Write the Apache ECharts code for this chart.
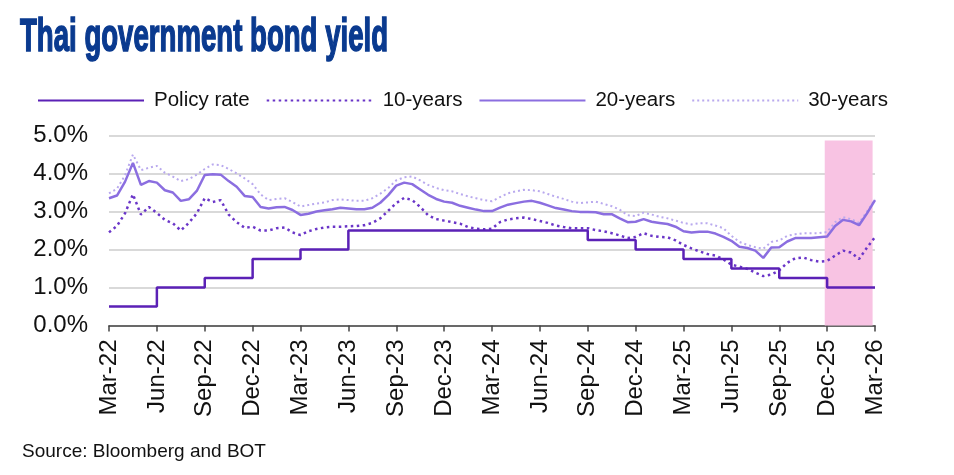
<!DOCTYPE html>
<html>
<head>
<meta charset="utf-8">
<title>Thai government bond yield</title>
<script src="https://cdn.jsdelivr.net/npm/echarts@6/dist/echarts.min.js"></script>
<style>
  html, body { margin: 0; padding: 0; background: #fff; }
  #chart { width: 954px; height: 475px; }
</style>
</head>
<body>
<div id="chart"></div>
<script>
// x positions are months since Mar-22, one sample every half month
const months = Array.from({ length: 97 }, (_, i) => i / 2)

const tickLabels = ['Mar-22', 'Jun-22', 'Sep-22', 'Dec-22', 'Mar-23', 'Jun-23', 'Sep-23', 'Dec-23',
  'Mar-24', 'Jun-24', 'Sep-24', 'Dec-24', 'Mar-25', 'Jun-25', 'Sep-25', 'Dec-25', 'Mar-26']

// policy rate changes at each quarter
const policyMonths = [0, 3, 6, 9, 12, 15, 18, 21, 24, 27, 30, 33, 36, 39, 42, 45, 48]
const policyRate = [0.5, 1.0, 1.25, 1.75, 2.0, 2.5, 2.5, 2.5, 2.5, 2.5, 2.25, 2.0, 1.75, 1.5, 1.25, 1.0, 1.0]

const yield10 = [
  2.45, 2.62, 2.95, 3.45, 2.92, 3.12, 2.96, 2.78, 2.69, 2.50, 2.70, 2.95, 3.35, 3.25, 3.30, 2.92,
  2.72, 2.57, 2.60, 2.50, 2.50, 2.56, 2.58, 2.45, 2.38, 2.48, 2.54, 2.58, 2.60, 2.60, 2.61, 2.62,
  2.64, 2.70, 2.82, 3.02, 3.22, 3.36, 3.30, 3.12, 2.90, 2.80, 2.76, 2.72, 2.68, 2.59, 2.55, 2.53,
  2.55, 2.72, 2.79, 2.82, 2.84, 2.80, 2.75, 2.70, 2.63, 2.59, 2.56, 2.56, 2.56, 2.51, 2.48, 2.43,
  2.37, 2.30, 2.33, 2.43, 2.36, 2.33, 2.32, 2.24, 2.12, 2.03, 1.95, 1.88, 1.84, 1.74, 1.60, 1.55,
  1.49, 1.39, 1.30, 1.34, 1.45, 1.65, 1.77, 1.79, 1.72, 1.68, 1.70, 1.84, 1.97, 1.92, 1.75, 2.05,
  2.33
]

const yield20 = [
  3.35, 3.42, 3.78, 4.28, 3.70, 3.80, 3.76, 3.56, 3.50, 3.28, 3.32, 3.54, 3.96, 3.98, 3.97, 3.80,
  3.65, 3.41, 3.38, 3.12, 3.08, 3.11, 3.12, 3.04, 2.91, 2.94, 3.00, 3.03, 3.06, 3.10, 3.08, 3.06,
  3.06, 3.10, 3.23, 3.43, 3.68, 3.76, 3.72, 3.58, 3.44, 3.33, 3.26, 3.23, 3.15, 3.10, 3.05, 3.01,
  3.01, 3.10, 3.18, 3.22, 3.26, 3.28, 3.23, 3.16, 3.09, 3.05, 3.01, 2.99, 2.99, 2.98, 2.93, 2.93,
  2.82, 2.72, 2.73, 2.80, 2.73, 2.70, 2.67, 2.60, 2.48, 2.45, 2.47, 2.47, 2.42, 2.33, 2.23, 2.07,
  2.04, 1.97, 1.78, 2.05, 2.06, 2.21, 2.30, 2.30, 2.30, 2.32, 2.34, 2.62, 2.78, 2.74, 2.64, 2.95,
  3.30
]

const yield30 = [
  3.48, 3.60, 3.95, 4.50, 4.09, 4.15, 4.20, 4.02, 3.92, 3.80, 3.85, 3.97, 4.12, 4.24, 4.22, 4.12,
  4.00, 3.87, 3.72, 3.45, 3.30, 3.33, 3.35, 3.25, 3.13, 3.17, 3.21, 3.24, 3.30, 3.32, 3.30, 3.28,
  3.28, 3.35, 3.47, 3.62, 3.82, 3.90, 3.92, 3.82, 3.70, 3.62, 3.56, 3.53, 3.46, 3.40, 3.35, 3.30,
  3.27, 3.38, 3.48, 3.53, 3.57, 3.56, 3.53, 3.46, 3.39, 3.33, 3.26, 3.22, 3.24, 3.26, 3.20, 3.14,
  3.05, 2.90, 2.88, 2.97, 2.92, 2.86, 2.82, 2.76, 2.70, 2.66, 2.69, 2.69, 2.63, 2.56, 2.36, 2.20,
  2.12, 2.06, 2.02, 2.20, 2.24, 2.36, 2.40, 2.43, 2.43, 2.43, 2.46, 2.72, 2.85, 2.80, 2.70, 3.00,
  3.32
]

// shaded period: Dec-25 to Mar-26
const shadeRange = [44.85, 47.85]
const shadeTop = 4.87

const pair = (xs, ys) => xs.map((x, i) => [x, ys[i]])

const chart = echarts.init(document.getElementById('chart'))

const font = '"Liberation Sans", Arial, sans-serif'

const option = {
  animation: false,
  textStyle: { fontFamily: font },
  graphic: [
    {
      type: 'text',
      x: 20,
      y: 15,
      scaleX: 0.6,
      style: {
        text: 'Thai government bond yield',
        font: 'bold 46px "Liberation Sans", Arial, sans-serif',
        fill: '#0a3a8f',
        stroke: '#0a3a8f',
        lineWidth: 1.6
      }
    },
    {
      type: 'text',
      x: 22,
      y: 442,
      style: {
        text: 'Source: Bloomberg and BOT',
        font: '19px "Liberation Sans", Arial, sans-serif',
        fill: '#111'
      }
    }
  ],
  legend: {
    left: 32,
    top: 85,
    itemWidth: 106,
    itemHeight: 14,
    itemGap: 16,
    data: ['Policy rate', '10-years', '20-years', '30-years'],
    itemStyle: { opacity: 0 },
    textStyle: {
      fontSize: 20.5,
      color: '#111',
      fontFamily: font,
      padding: [0, 0, 0, 5]
    }
  },
  grid: {
    left: 109,
    right: 79,
    top: 135.5,
    bottom: 149.5,
    containLabel: false
  },
  xAxis: {
    type: 'value',
    min: 0,
    max: 48,
    interval: 3,
    axisLine: { lineStyle: { color: '#444', width: 1.5 } },
    axisTick: { show: true, length: 6, lineStyle: { color: '#444', width: 1.5 } },
    splitLine: { show: false },
    axisLabel: {
      rotate: 90,
      margin: 14,
      fontSize: 24,
      color: '#111',
      formatter: v => tickLabels[Math.round(v / 3)]
    }
  },
  yAxis: {
    type: 'value',
    min: 0,
    max: 5,
    interval: 1,
    axisLine: { show: false },
    axisTick: { show: false },
    splitLine: { lineStyle: { color: '#d9d9d9', width: 2 } },
    axisLabel: {
      margin: 21,
      fontSize: 24,
      color: '#111',
      formatter: v => v.toFixed(1) + '%'
    }
  },
  series: [
    {
      name: 'shade',
      type: 'line',
      data: [],
      z: 1,
      silent: true,
      markArea: {
        silent: true,
        itemStyle: { color: '#f8c3e3' },
        data: [[
          { coord: [shadeRange[0], 0] },
          { coord: [shadeRange[1], shadeTop] }
        ]]
      }
    },
    {
      name: '30-years',
      type: 'line',
      z: 3,
      symbol: 'none',
      data: pair(months, yield30),
      itemStyle: { color: '#b9a9ee' },
      lineStyle: { color: '#b9a9ee', width: 2, type: [2, 3] }
    },
    {
      name: '20-years',
      type: 'line',
      z: 4,
      symbol: 'none',
      data: pair(months, yield20),
      itemStyle: { color: '#8b6ee0' },
      lineStyle: { color: '#8b6ee0', width: 2.5 }
    },
    {
      name: '10-years',
      type: 'line',
      z: 5,
      symbol: 'none',
      data: pair(months, yield10),
      itemStyle: { color: '#6a35c8' },
      lineStyle: { color: '#6a35c8', width: 2.5, type: [2.5, 3.5] }
    },
    {
      name: 'Policy rate',
      type: 'line',
      z: 6,
      symbol: 'none',
      step: 'end',
      data: pair(policyMonths, policyRate),
      itemStyle: { color: '#5b21b6' },
      lineStyle: { color: '#5b21b6', width: 2.5 }
    }
  ]
}

chart.setOption(option)
</script>
</body>
</html>
